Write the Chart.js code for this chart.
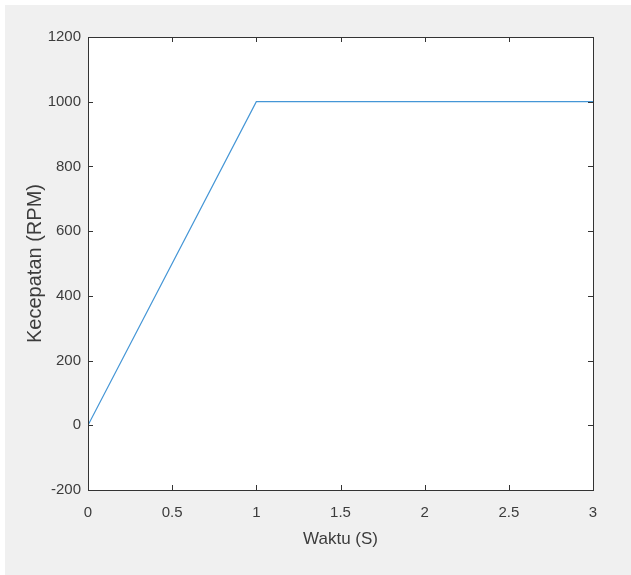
<!DOCTYPE html>
<html lang="en">
<head>
    <meta charset="UTF-8">
    <title>Kecepatan vs Waktu</title>
    <script src="https://cdn.jsdelivr.net/npm/chart.js"></script>
    <style>
        body { margin: 0; background: #ffffff; overflow: hidden; }
        .frame { position: absolute; left: 5px; top: 5px; width: 626px; height: 570px; background: #f0f0f0; }
    </style>
</head>
<body>
    <div class="frame">
        <canvas id="speedChart" width="626" height="570"></canvas>
    </div>

    <script>
        // data
        const waktu = [0, 1, 3];
        const kecepatan = [0, 1000, 1000];
        const xTicks = [0, 0.5, 1, 1.5, 2, 2.5, 3];
        const yTicks = [-200, 0, 200, 400, 600, 800, 1000, 1200];

        const axisColor = '#333333';
        const textColor = '#3c3c3c';

        // white plot area + matlab style box with inward ticks
        const boxPlugin = {
            id: 'box',
            beforeDraw(chart) {
                const a = chart.chartArea;
                const ctx = chart.ctx;
                ctx.save();
                ctx.fillStyle = '#ffffff';
                ctx.fillRect(a.left, a.top, a.right - a.left, a.bottom - a.top);
                ctx.restore();
            },
            afterDraw(chart) {
                const a = chart.chartArea;
                const ctx = chart.ctx;
                const xs = chart.scales.x, ys = chart.scales.y;
                const len = 5;
                ctx.save();
                ctx.strokeStyle = axisColor;
                ctx.lineWidth = 1;
                ctx.strokeRect(Math.round(a.left) + 0.5, Math.round(a.top) + 0.5,
                    Math.round(a.right - a.left), Math.round(a.bottom - a.top));
                ctx.beginPath();
                xTicks.forEach(v => {
                    const px = Math.round(xs.getPixelForValue(v)) + 0.5;
                    ctx.moveTo(px, a.bottom); ctx.lineTo(px, a.bottom - len);
                    ctx.moveTo(px, a.top); ctx.lineTo(px, a.top + len);
                });
                yTicks.forEach(v => {
                    const py = Math.round(ys.getPixelForValue(v)) + 0.5;
                    ctx.moveTo(a.left, py); ctx.lineTo(a.left + len, py);
                    ctx.moveTo(a.right, py); ctx.lineTo(a.right - len, py);
                });
                ctx.stroke();
                ctx.restore();
            }
        };

        window.onload = function() {
            const ctx = document.getElementById('speedChart').getContext('2d');
            new Chart(ctx, {
                type: 'scatter',
                data: {
                    datasets: [{
                        data: waktu.map((t, i) => ({ x: t, y: kecepatan[i] })),
                        showLine: true,
                        borderColor: '#4596d6',
                        borderWidth: 1.2,
                        pointRadius: 0,
                        fill: false,
                        tension: 0
                    }]
                },
                options: {
                    responsive: false,
                    animation: false,
                    events: [],
                    layout: { padding: { left: 0, top: 32, right: 38, bottom: 0 } },
                    plugins: { legend: { display: false }, tooltip: { enabled: false } },
                    scales: {
                        x: {
                            type: 'linear',
                            min: 0, max: 3,
                            afterFit: s => { s.height = 85; },
                            afterBuildTicks: s => { s.ticks = xTicks.map(v => ({ value: v })); },
                            grid: { display: false, drawTicks: false },
                            border: { display: false },
                            ticks: {
                                color: textColor,
                                font: { family: 'Liberation Sans, Arial', size: 15 },
                                padding: 14,
                                maxRotation: 0,
                                autoSkip: false,
                                callback: v => String(v)
                            },
                            title: {
                                display: true,
                                text: 'Waktu (S)',
                                color: textColor,
                                font: { family: 'Liberation Sans, Arial', size: 17 },
                                padding: { top: 0, bottom: 25 }
                            }
                        },
                        y: {
                            type: 'linear',
                            min: -200, max: 1200,
                            afterFit: s => { s.width = 83; },
                            afterBuildTicks: s => { s.ticks = yTicks.map(v => ({ value: v })); },
                            grid: { display: false, drawTicks: false },
                            border: { display: false },
                            ticks: {
                                color: textColor,
                                font: { family: 'Liberation Sans, Arial', size: 15 },
                                padding: 7,
                                autoSkip: false,
                                callback: v => String(v)
                            },
                            title: {
                                display: true,
                                text: 'Kecepatan (RPM)',
                                color: textColor,
                                font: { family: 'Liberation Sans, Arial', size: 20 },
                                padding: { top: 18, bottom: 0 }
                            }
                        }
                    }
                },
                plugins: [boxPlugin]
            });
        };
    </script>
</body>
</html>
